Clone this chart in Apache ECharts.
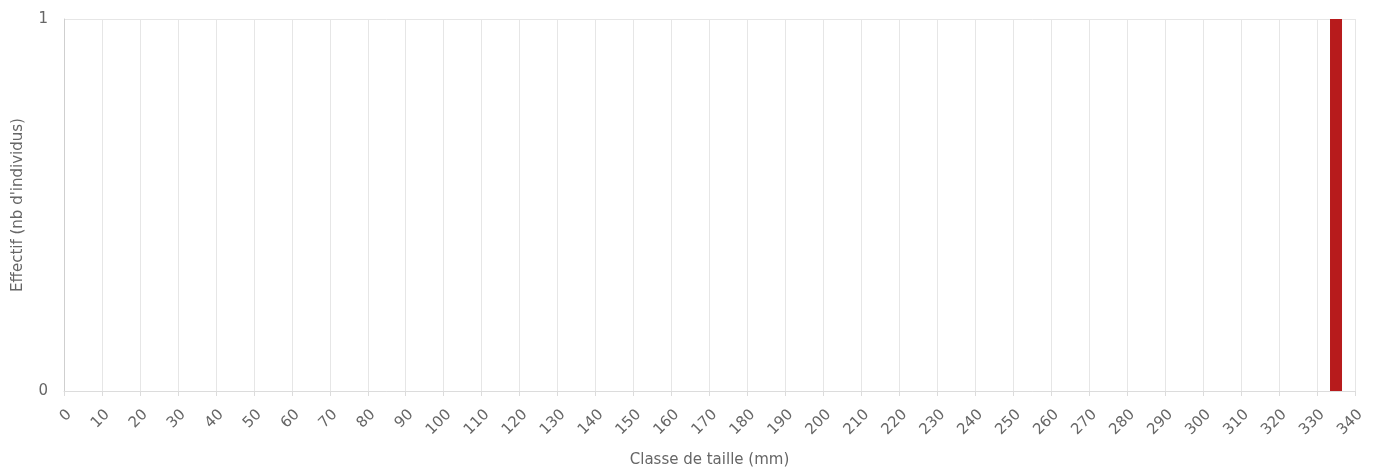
<!DOCTYPE html>
<html>
<head>
<meta charset="utf-8">
<script src="https://cdn.jsdelivr.net/npm/echarts@6/dist/echarts.min.js"></script>
<style>
html,body{margin:0;padding:0;background:#fff;}
#chart{width:1380px;height:471px;}
</style>
</head>
<body>
<div id="chart"></div>
<script>
var sizeClasses = [335];
var counts = [1];
var xName = 'Classe de taille (mm)';
var yName = "Effectif (nb d'individus)";

var chart = echarts.init(document.getElementById('chart'));
var font = '"DejaVu Sans", "Open Sans", sans-serif';
chart.setOption({
  animation: false,
  grid: {left: 64, right: 25, top: 19, bottom: 80, containLabel: false, outerBoundsMode: 'none'},
  xAxis: {
    type: 'value', min: 0, max: 340, interval: 10,
    name: xName, nameLocation: 'middle', nameGap: 62,
    nameTextStyle: {color: '#666', fontSize: 15, fontFamily: font},
    axisLine: {show: true, lineStyle: {color: '#dcdcdc'}},
    axisTick: {show: true, length: 5, lineStyle: {color: '#dcdcdc'}},
    axisLabel: {rotate: 45, color: '#666', fontSize: 15, fontFamily: font, margin: 16, verticalAlign: 'top'},
    splitLine: {show: true, lineStyle: {color: '#e6e6e6'}}
  },
  yAxis: {
    type: 'value', min: 0, max: 1, interval: 1,
    name: yName, nameLocation: 'middle', nameGap: 38,
    nameTextStyle: {color: '#666', fontSize: 15, fontFamily: font},
    axisLine: {show: true, lineStyle: {color: '#cfcfcf'}},
    axisTick: {show: false},
    axisLabel: {color: '#666', fontSize: 15, fontFamily: font, margin: 16},
    splitLine: {show: true, lineStyle: {color: '#e6e6e6'}}
  },
  series: [{
    type: 'bar',
    barWidth: 12,
    itemStyle: {color: '#b71b1c'},
    data: sizeClasses.map(function(x, i){ return [x, counts[i]]; })
  }]
});
</script>
</body>
</html>
